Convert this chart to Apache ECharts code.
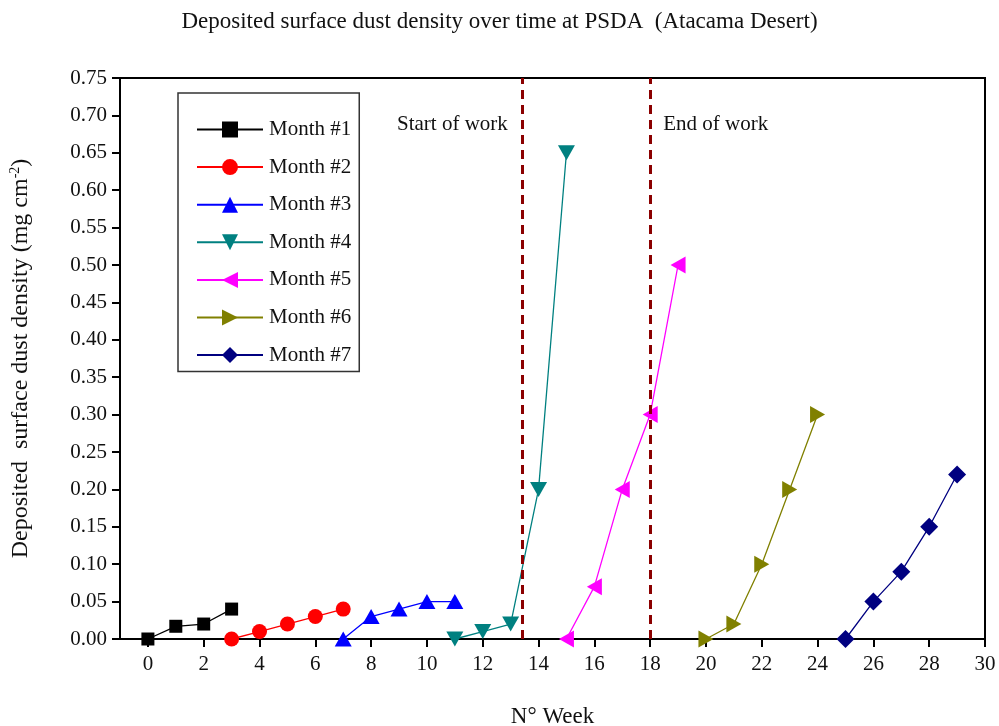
<!DOCTYPE html>
<html><head><meta charset="utf-8">
<script src="https://cdn.jsdelivr.net/npm/echarts@6/dist/echarts.min.js"></script>
<style>html,body{margin:0;padding:0;background:#fff}#c{width:999px;height:726px}</style>
</head><body><div id="c"></div>
<script>
const seriesNames = ['Month #1','Month #2','Month #3','Month #4','Month #5','Month #6','Month #7'];
const m1 = [[0,0],[1,0.017],[2,0.02],[3,0.04]];
const m2 = [[3,0],[4,0.01],[5,0.02],[6,0.03],[7,0.04]];
const m3 = [[7,0],[8,0.03],[9,0.04],[10,0.05],[11,0.05]];
const m4 = [[11,0],[12,0.01],[13,0.02],[14,0.2],[15,0.65]];
const m5 = [[15,0],[16,0.07],[17,0.2],[18,0.3],[19,0.5]];
const m6 = [[20,0],[21,0.02],[22,0.1],[23,0.2],[24,0.3]];
const m7 = [[25,0],[26,0.05],[27,0.09],[28,0.15],[29,0.22]];
const xTicks = [0,2,4,6,8,10,12,14,16,18,20,22,24,26,28,30];
const workLines = [13.4, 18];
const workLabels = ['Start of work','End of work'];

const font = '"Liberation Serif","Times New Roman",serif';
const colors = ['#000000','#ff0000','#0000ff','#008080','#ff00ff','#808000','#000080'];
const symbols = ['rect','circle',
  'path://M5,0 L10,10 L0,10 Z',
  'path://M0,0 L10,0 L5,10 Z',
  'path://M0,5 L10,0 L10,10 Z',
  'path://M0,0 L10,5 L0,10 Z',
  'diamond'];
const sizes = [13,15,[17,15],[17,15],[15,17],[15,17],[18,18]];
const datas = [m1,m2,m3,m4,m5,m6,m7];

const series = datas.map((d,i)=>({
  name: seriesNames[i], type:'line', data:d,
  symbol: symbols[i], symbolSize: sizes[i], showAllSymbol:true,
  lineStyle:{color:colors[i], width:1.3},
  itemStyle:{color:colors[i]},
  z: 3
}));
series[0].markLine = {
  silent:true, symbol:'none', animation:false,
  lineStyle:{color:'#8b0000', width:3, type:[9,6]},
  label:{show:false},
  data: workLines.map(v=>({xAxis:v}))
};

const chart = echarts.init(document.getElementById('c'));
chart.setOption({
  animation:false,
  backgroundColor:'#fff',
  title:{text:'Deposited surface dust density over time at PSDA  (Atacama Desert)', left:'center', top:5,
    textStyle:{fontFamily:font, fontSize:23, fontWeight:'normal', color:'#111'}},
  grid:{left:120, right:14, top:78, bottom:87, outerBoundsMode:'none', containLabel:false,
    show:true, borderColor:'#000', borderWidth:2, backgroundColor:'transparent'},
  legend:{
    orient:'vertical', left:178, top:93,
    data: seriesNames,
    itemWidth:66, itemHeight:20, itemGap:16.6,
    padding:[26,8,6,18],
    borderColor:'#333', borderWidth:1.5, backgroundColor:'#fff',
    textStyle:{fontFamily:font, fontSize:21, color:'#111', lineHeight:20, height:20, padding:[0,0,0,1]}
  },
  xAxis:{type:'value', min:-1, max:30,
    name:'N° Week', nameLocation:'middle', nameGap:66,
    nameTextStyle:{fontFamily:font, fontSize:23, color:'#111'},
    axisLine:{onZero:false, lineStyle:{color:'#000', width:2}},
    axisTick:{show:true, length:8, inside:false, lineStyle:{width:2, color:'#000'}, customValues:xTicks},
    axisLabel:{fontFamily:font, fontSize:21, color:'#111', margin:15, customValues:xTicks},
    splitLine:{show:false}
  },
  yAxis:{type:'value', min:0, max:0.75, interval:0.05,
    name:'{a|Deposited  surface dust density (mg cm}{s|-2}{a|)}', nameLocation:'middle', nameGap:86, nameRotate:90,
    nameTextStyle:{rich:{a:{fontFamily:font, fontSize:24, color:'#111'}, s:{fontFamily:font, fontSize:14, color:'#111', verticalAlign:'top', padding:[0,0,12,0]}}},
    axisLine:{onZero:false, lineStyle:{color:'#000', width:2}},
    axisTick:{show:true, length:8, lineStyle:{width:2, color:'#000'}},
    axisLabel:{fontFamily:font, fontSize:21, color:'#111', margin:13, formatter:v=>v.toFixed(2)},
    splitLine:{show:false}
  },
  series: series
});
const gfx = workLines.map((v,i)=>{
  const p = chart.convertToPixel({xAxisIndex:0,yAxisIndex:0},[v,0.7]);
  return {type:'text', x: i===0 ? p[0]-14 : p[0]+13, y: 124, style:{text:workLabels[i], fontFamily:font, fontSize:21, fill:'#111', align: i===0?'right':'left', verticalAlign:'middle'}};
});
chart.setOption({graphic: gfx});
</script>
</body></html>
